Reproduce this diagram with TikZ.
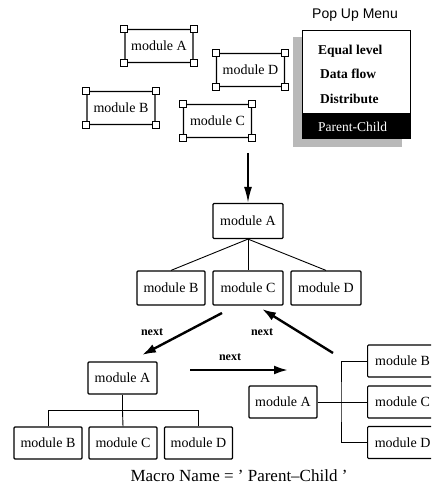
\documentclass[tikz,border=0pt]{standalone}
\usepackage{fontspec}
\setmainfont{Liberation Serif}
\newfontfamily\menufont{Liberation Sans}
\usetikzlibrary{arrows.meta,patterns}

\tikzset{
  module/.style={draw, line width=1.2pt, rounded corners=1pt, minimum width=68pt,
    minimum height=33pt, inner sep=0pt, font=\fontsize{14}{16}\selectfont},
  handle/.style={draw, fill=white, line width=1.1pt, minimum size=7pt, inner sep=0pt},
  menuitem/.style={anchor=west, inner sep=0pt, font=\bfseries\fontsize{13.5}{16}\selectfont},
  nextarrow/.style={line width=2.4pt, -{Latex[length=14pt,width=9pt]}},
  nextlabel/.style={font=\bfseries\fontsize{12}{14}\selectfont}
}

\begin{document}
\begin{tikzpicture}[x=1pt,y=-1pt]
			\useasboundingbox (0,0) rectangle (431,489);
			\clip (0,0) rectangle (431,489);
			\node[module] (sA) at (159,46) {module A};
			\node[module] (sD) at (250.5,70) {module D};
			\node[module] (sB) at (121,108) {module B};
			\node[module] (sC) at (217.5,121) {module C};
			\foreach \m in {sA,sB,sC,sD}
				\foreach \c/\s in {north west/nw,north east/ne,south west/sw,south east/se}
					\node[handle] (\m-\s) at (\m.\c) {};
			\node[font=\menufont\fontsize{14}{16}\selectfont] (title) at (355,15) {Pop Up Menu};
			\node[fill=gray!55, pattern color=black, minimum width=109pt, minimum height=110pt, inner sep=0pt] (shadow) at (347.5,92) {};
			\node[draw, fill=white, line width=1pt, minimum width=108pt, minimum height=108pt, inner sep=0pt] (menu) at (356,85) {};
			\node[fill=black, minimum width=108pt, minimum height=26pt, inner sep=0pt, anchor=south west] (band) at (menu.south west) {};
			\node[menuitem] (eq) at (318,51) {Equal level};
			\node[menuitem] (df) at (320,74) {Data flow};
			\node[menuitem] (dist) at (320,99) {Distribute};
			\node[menuitem, text=white, font=\fontsize{13.5}{16}\selectfont] (pc) at (318,127) {Parent-Child};

			\coordinate (top) at (248,153);
			\node[module, minimum width=70pt, minimum height=35pt] (tA) at (248,221) {module A};
			\node[module, minimum height=34pt] (tB) at (171,288) {module B};
			\node[module, minimum width=70pt, minimum height=34pt] (tC) at (248,288) {module C};
			\node[module, minimum width=70pt, minimum height=34pt] (tD) at (326,288) {module D};
			\draw[line width=1.8pt, -{Latex[length=16pt,width=8pt]}] (top) -- (tA.north);
			\draw[line width=0.9pt] (tA.south) -- (tB.north);
			\draw[line width=0.9pt] (tA.south) -- (tC.north);
			\draw[line width=0.9pt] (tA.south) -- (tD.north);

			\node[module, minimum width=69pt, minimum height=32pt] (bA) at (122.5,378) {module A};
			\node[module, minimum height=32pt] (bB) at (48,443) {module B};
			\node[module, minimum height=32pt] (bC) at (123,443) {module C};
			\node[module, minimum height=32pt] (bD) at (198.5,443) {module D};
			\draw[line width=0.9pt] (bA.south) -- ++(0,16) coordinate (bj);
			\draw[line width=0.9pt] (bB.north) |- (bj) -| (bD.north);
			\draw[line width=0.9pt] (bj) -- (bC.north);

			\node[module, minimum height=32pt] (rA) at (283,402) {module A};
			\node[module, minimum width=70pt, minimum height=32pt, anchor=west] (rB) at (367,361) {module B};
			\node[module, minimum width=70pt, minimum height=32pt, anchor=west] (rC) at (367,402) {module C};
			\node[module, minimum width=70pt, minimum height=32pt, anchor=west] (rD) at (367,442.5) {module D};
			\coordinate (rj) at (341,402);
			\draw[line width=0.9pt] (rA.east) -- (rC.west);
			\draw[line width=0.9pt] (rB.west) -| (rj) |- (rD.west);

			\coordinate (n1a) at (222,313);
			\coordinate (n1b) at (142,355);
			\coordinate (n2a) at (333,353);
			\coordinate (n2b) at (262,309);
			\coordinate (n3a) at (190,370);
			\coordinate (n3b) at (288,370);
			\draw[nextarrow] (n1a) -- (n1b);
			\draw[nextarrow] (n2a) -- (n2b);
			\draw[nextarrow] (n3a) -- (n3b);
			\node[nextlabel] (l1) at (152,332) {next};
			\node[nextlabel] (l2) at (262,332) {next};
			\node[nextlabel] (l3) at (230,357) {next};

			\node[font=\fontsize{17}{20}\selectfont] (macro) at (239,476) {Macro Name = ' Parent--Child '};
		\end{tikzpicture}
\end{document}
